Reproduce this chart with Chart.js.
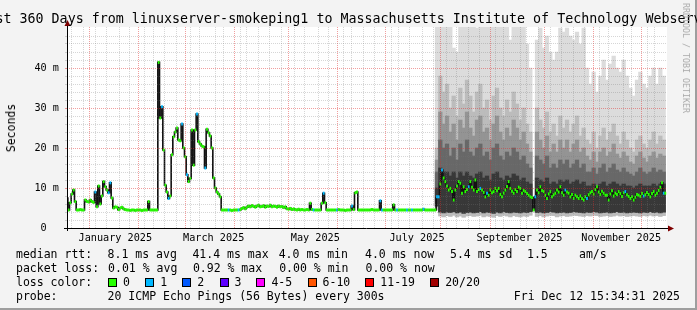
<!DOCTYPE html>
<html>
<head>
<meta charset="utf-8">
<title>SmokePing - Massachusetts Institute of Technology Webserver</title>
<script src="https://cdn.jsdelivr.net/npm/chart.js@4.4.1/dist/chart.umd.min.js"></script>
<style>
  html, body { margin: 0; padding: 0; }
  body {
    width: 697px; height: 310px; position: relative; overflow: hidden;
    background: #f3f3f3;
    font-family: "DejaVu Sans Mono", monospace;
    color: #000;
  }
  #shade { position: absolute; left: 0; top: 0; width: 695px; height: 308px;
           border-right: 2px solid #9e9e9e; border-bottom: 2px solid #9e9e9e; }
  #graph { position: absolute; left: 0; top: 0; }
  #title { position: absolute; top: 11px; left: 348.5px; transform: translateX(-50%);
           font-size: 13.33px; line-height: 16px; white-space: pre; }
  #ylabel { position: absolute; left: 11px; top: 128px; transform: translate(-50%, -50%) rotate(-90deg);
            font-size: 11.5px; white-space: pre; }
  #mark { position: absolute; left: 686px; top: 58px; transform: translate(-50%, -50%) rotate(90deg);
          font-size: 8.3px; color: #ababab; white-space: pre; }
  .txt { position: absolute; white-space: pre; font-size: 11.5px; line-height: 14px; }
  .box { position: absolute; width: 7px; height: 7px; border: 1px solid #000; }
</style>
</head>
<body>
<div id="shade"></div>
<canvas id="graph" width="697" height="250"></canvas>
<div id="title">Last 360 Days from linuxserver-smokeping1 to Massachusetts Institute of Technology Webserver</div>
<div id="ylabel">Seconds</div>
<div id="mark">RRDTOOL / TOBI OETIKER</div>
<div id="legend"></div>
<script>
// median rtt in ms, one value per day, day 0 = left edge of the graph (17 Dec 2024)
const medianMs = [
  7.5, 4.5, 6.3, 8.5, 9.5, 6.6, 4.5, 4.5, 4.6, 4.5,
  4.5, 7.0, 6.6, 6.5, 7.0, 6.6, 6.4, 9.0, 5.3, 10.5,
  6.0, 8.0, 11.6, 10.3, 9.5, 8.8, 11.3, 7.5, 5.0, 5.3,
  5.2, 4.6, 5.0, 5.2, 4.8, 4.6, 4.5, 4.5, 4.4, 4.5,
  4.5, 4.4, 4.5, 4.5, 4.5, 4.4, 4.5, 4.5, 4.5, 6.6,
  4.5, 4.5, 4.5, 4.5, 4.5, 41.4, 27.5, 30.3, 19.5, 10.7,
  9.0, 7.4, 8.0, 18.3, 22.8, 24.0, 25.0, 22.0, 21.8, 26.0,
  20.0, 17.8, 13.3, 11.6, 12.4, 24.5, 15.7, 24.5, 28.5, 21.6,
  21.0, 20.5, 20.3, 15.0, 24.7, 23.8, 23.0, 20.0, 12.5, 10.0,
  9.0, 8.5, 7.8, 4.5, 4.5, 4.5, 4.5, 4.5, 4.5, 4.4,
  4.5, 4.5, 4.5, 4.5, 4.6, 4.9, 5.1, 4.8, 5.2, 5.5,
  5.3, 5.6, 5.4, 5.2, 5.5, 5.7, 5.3, 5.4, 5.6, 5.2,
  5.5, 5.4, 5.7, 5.3, 5.5, 5.4, 5.2, 5.5, 5.3, 5.4,
  5.1, 5.3, 4.8, 4.7, 4.9, 4.6, 4.8, 4.6, 4.5, 4.7,
  4.5, 4.6, 4.5, 4.5, 4.6, 4.5, 6.2, 4.6, 4.5, 4.5,
  4.5, 4.5, 4.5, 6.2, 8.7, 6.3, 4.5, 4.5, 4.5, 4.5,
  4.5, 4.5, 4.5, 4.6, 4.5, 4.5, 4.5, 4.4, 4.5, 4.5,
  4.5, 5.5, 4.6, 8.8, 9.0, 4.5, 4.5, 4.5, 4.5, 4.5,
  4.5, 4.5, 4.5, 4.6, 4.5, 4.5, 4.5, 4.5, 6.8, 4.5,
  4.5, 4.5, 4.5, 4.5, 4.5, 4.5, 5.8, 4.5, 4.5, 4.5,
  4.5, 4.5, 4.5, 4.5, 4.5, 4.5, 4.5, 4.5, 4.5, 4.5,
  4.5, 4.5, 4.5, 4.5, 4.7, 4.5, 4.5, 4.5, 4.5, 4.5,
  4.5, 4.5, 7.8, 7.8, 11.0, 14.5, 12.5, 11.6, 10.5, 9.5,
  9.9, 9.1, 7.0, 9.5, 10.5, 11.6, 11.2, 8.7, 10.3, 9.1,
  9.6, 10.3, 11.6, 10.2, 9.5, 12.0, 9.1, 9.6, 9.9, 9.5,
  8.9, 7.8, 8.7, 8.2, 9.5, 8.8, 9.1, 9.9, 9.3, 9.9,
  8.4, 7.8, 8.7, 9.5, 10.4, 11.6, 9.9, 9.2, 8.7, 9.6,
  9.1, 10.2, 9.9, 8.7, 9.4, 9.1, 8.6, 8.2, 7.8, 7.6,
  4.5, 7.8, 9.5, 8.8, 10.3, 9.4, 9.1, 8.2, 7.4, 8.5,
  9.1, 7.8, 8.3, 8.7, 9.5, 9.0, 10.3, 8.8, 8.2, 9.5,
  9.0, 8.7, 7.8, 8.4, 7.4, 8.2, 7.8, 7.4, 8.0, 7.4,
  7.0, 7.8, 7.4, 8.3, 8.8, 9.1, 8.5, 9.6, 10.3, 9.0,
  8.4, 9.2, 8.7, 8.2, 8.2, 7.0, 8.5, 9.3, 8.0, 8.7,
  8.4, 9.1, 8.6, 7.9, 8.8, 9.1, 8.3, 7.9, 7.4, 7.8,
  7.0, 7.7, 8.4, 8.2, 7.9, 8.6, 8.0, 8.3, 8.9, 8.4,
  7.8, 8.6, 9.1, 8.2, 8.7, 9.4, 10.2, 11.3, 8.7, 8.7
];

// days where the median was drawn in the 1/20 loss colour
const lossOneDays = [0, 17, 25, 26, 57, 61, 69, 72, 78, 83, 97, 103, 148, 154, 162, 171,
  188, 189, 198, 204, 207, 214, 222, 223, 225, 241, 248, 252, 281, 299, 312, 335, 346, 358];

// smoke (ping spread), every 2nd day from day 222, null = no data
const smokeFirstDay = 222;
const smokeMax = [52, 52, 52, 52, 52, 45, 44, 52, 52, 52, 52, 52, 50, 52, 52, 52, 52, 52, 52, 52,
  52, 52, 47, 52, 52, 52, 52, 46, 40, null,
  47, 50, 45, 48, 44, 42, 44, 50, 49, 50, 48, 47, 49, 46, 50, 40, 36, 39, 34, 38,
  42, 37, 41, 43, 40, 39, 42, 38, 35, 33, 37, 39, 36, 35, 38, 40, 36, 40, 38];
const smokeHigh = [20, 38, 34, 36, 30, 33, 28, 35, 31, 37, 33, 29, 34, 36, 30, 32, 27, 33, 35, 30,
  28, 32, 29, 34, 31, 27, 30, 26, 24, null,
  30, 27, 25, 29, 24, 26, 23, 28, 25, 27, 24, 26, 28, 23, 25, 22, 21, 24, 20, 23,
  25, 22, 24, 26, 23, 21, 24, 22, 20, 19, 22, 23, 21, 20, 22, 24, 21, 23, 22];
const smokeUpper = [17, 29, 26, 28, 24, 26, 22, 27, 25, 29, 25, 23, 27, 28, 24, 25, 22, 26, 28, 24,
  22, 25, 23, 27, 25, 22, 24, 21, 19, null,
  24, 22, 20, 23, 19, 21, 19, 22, 20, 22, 19, 21, 22, 19, 20, 18, 17, 19, 16.5, 19,
  20, 18, 19, 21, 18.5, 17.5, 19, 18, 16.5, 16, 18, 19, 17.5, 16.5, 18, 19, 17.5, 18.5, 18];
const smokeMid = [14, 22, 20, 21, 18, 20, 17, 21, 19, 22, 19, 18, 20, 21, 18, 19, 17, 20, 21, 18,
  17, 19, 18, 20, 19, 17, 18, 16, 15, null,
  18, 17, 16, 18, 15, 16, 15, 17, 16, 17, 15, 16, 17, 15, 16, 14, 14, 15, 13.5, 15,
  16, 14, 15, 16, 14.5, 14, 15, 14, 13.5, 13, 14, 15, 14, 13.5, 14, 15, 14, 14.5, 14];
const smokeCore = [10, 15, 14, 14, 13, 14, 12.5, 14, 13, 14, 13, 12.5, 13.5, 14, 12.5, 13, 12, 13.5, 14, 12.5,
  12, 13, 12.5, 13.5, 13, 12, 12.5, 11.5, 11, null,
  12.5, 12, 11.5, 12.5, 11, 11.5, 11, 12, 11.5, 12, 11, 11.5, 12, 11, 11.5, 10.5, 10.5, 11, 10.5, 11,
  11.5, 10.5, 11, 11.5, 11, 10.5, 11, 10.5, 10.5, 10, 10.5, 11, 10.5, 10.5, 10.5, 11, 10.5, 11, 11];
const coreLow = [5.5, 4.0, 3.8, 4.0, 3.9, 4.1, 3.8, 4.0, 3.7, 3.9, 4.0, 3.8, 3.9, 4.1, 3.8, 4.0, 3.9, 3.7, 4.0, 3.8,
  4.1, 3.9, 3.8, 4.0, 3.9, 3.8, 4.0, 3.9, 4.1, null,
  3.9, 4.0, 3.8, 3.9, 4.1, 4.0, 3.8, 3.9, 4.0, 3.8, 3.9, 4.1, 4.0, 3.9, 3.8, 4.0, 3.9, 4.1, 4.0, 3.8,
  3.9, 4.0, 3.8, 3.9, 4.1, 3.9, 4.0, 3.8, 3.9, 4.0, 3.9, 3.8, 4.0, 3.9, 4.1, 3.9, 4.0, 3.8, 4.0];
const smokeMin = [4.5, 3.0, 2.8, 3.1, 2.9, 3.2, 2.8, 3.0, 2.7, 3.0, 3.1, 2.9, 3.0, 3.2, 2.8, 3.0, 2.9, 2.7, 3.1, 2.9,
  3.2, 3.0, 2.8, 3.1, 2.9, 2.8, 3.0, 2.9, 3.2, null,
  2.9, 3.1, 2.8, 3.0, 3.2, 3.1, 2.8, 3.0, 3.1, 2.9, 3.0, 3.2, 3.1, 3.0, 2.9, 3.1, 3.0, 3.2, 3.1, 2.9,
  3.0, 3.1, 2.9, 3.0, 3.2, 3.0, 3.1, 2.9, 3.0, 3.1, 3.0, 2.9, 3.1, 3.0, 3.2, 3.0, 3.1, 2.9, 3.1];

// axes
const monthStartDays = [13.5, 44.5, 72.5, 103.5, 133.5, 164.5, 194.5, 225.5, 256.5, 286.5, 317.5, 347.5];
const xLabelDays = [29, 88, 149, 210, 271.5, 332.5];
const xLabels = ["January 2025", "March 2025", "May 2025", "July 2025", "September 2025", "November 2025"];
const firstWeekDay = 6.2;
const yMajor = [0, 10, 20, 30, 40];
const yMajorLabels = ["0  ", "10 m", "20 m", "30 m", "40 m"];

// legend
const lossLabels = ["0", "1", "2", "3", "4-5", "6-10", "11-19", "20/20"];
const lossColors = ["#26ff00", "#00b8ff", "#0059ff", "#5e00ff", "#ff00ff", "#ff5500", "#ff0000", "#a10000"];
const medianStats = ["8.1 ms avg", "41.4 ms max", "4.0 ms min", "4.0 ms now", "5.4 ms sd", "1.5", "am/s"];
const lossStats = ["0.01 % avg", "0.92 % max", "0.00 % min", "0.00 % now"];
const probeText = "20 ICMP Echo Pings (56 Bytes) every 300s";
const stampText = "Fri Dec 12 15:34:31 2025";

// ---- layout of the legend block (px) ----
const statCols = [107.6, 192.4, 278.7, 365, 450, 527, 579];
const boxCols = [108, 145.3, 182.2, 219.6, 256.4, 307.6, 365.3, 430.2];
const rowTops = [247, 261, 275, 289];

const GRID_MINOR = "rgba(120,120,120,0.3)";
const GRID_MAJOR = "rgba(225,40,40,0.45)";
const FONT_AXIS = { family: "DejaVu Sans Mono", size: 10.2 };

function addText(text, x, top, extra) {
  const el = document.createElement("div");
  el.className = "txt";
  el.textContent = text;
  el.style.left = x + "px";
  el.style.top = top + "px";
  if (extra) Object.assign(el.style, extra);
  document.getElementById("legend").appendChild(el);
}

function buildLegend() {
  addText("median rtt:", 16, rowTops[0]);
  medianStats.forEach((s, i) => addText(s, statCols[i], rowTops[0]));
  addText("packet loss:", 16, rowTops[1]);
  lossStats.forEach((s, i) => addText(s, statCols[i] + 0.5, rowTops[1]));
  addText("loss color:", 16, rowTops[2]);
  lossLabels.forEach((s, i) => {
    const b = document.createElement("div");
    b.className = "box";
    b.style.left = boxCols[i] + "px";
    b.style.top = (rowTops[2] + 3) + "px";
    b.style.background = lossColors[i];
    document.getElementById("legend").appendChild(b);
    addText(s, boxCols[i] + 15, rowTops[2]);
  });
  addText("probe:", 16, rowTops[3]);
  addText(probeText, statCols[0], rowTops[3]);
  addText(stampText, 0, rowTops[3], { left: "auto", right: "17px" });
}

// build chart points from the arrays
const medianPts = medianMs.map((v, d) => ({ x: d, y: v }));
const pointColors = medianMs.map((v, d) => lossOneDays.includes(d) ? lossColors[1] : lossColors[0]);

function band(lo, hi) {
  const pts = [];
  hi.forEach((v, i) => {
    if (v == null || lo[i] == null) return;
    pts.push({ x: smokeFirstDay + 2 * i, y: [lo[i], v] });
  });
  return pts;
}

// one smoke column covers 2 days = 3.33px, a little extra so columns touch
function smokeSet(data, color, order) {
  return {
    type: "bar",
    data,
    backgroundColor: color,
    borderWidth: 0,
    grouped: false,
    barThickness: 3.6,
    order
  };
}

function xTicks() {
  const t = [];
  for (let d = firstWeekDay; d < 360; d += 7) t.push({ value: d, kind: "week" });
  monthStartDays.forEach((d) => t.push({ value: d, kind: "month" }));
  xLabelDays.forEach((d, i) => t.push({ value: d, kind: "label", text: xLabels[i] }));
  return t.sort((a, b) => a.value - b.value);
}

// white canvas + axes with rrdtool style arrows
const rrdFrame = {
  id: "rrdFrame",
  beforeDraw(chart) {
    const { ctx, chartArea: a } = chart;
    ctx.save();
    ctx.fillStyle = "#ffffff";
    ctx.fillRect(a.left, a.top, a.right - a.left, a.bottom - a.top);
    ctx.restore();
  },
  afterDraw(chart) {
    const { ctx, chartArea: a } = chart;
    ctx.save();
    ctx.strokeStyle = "#000";
    ctx.lineWidth = 1;
    ctx.beginPath();
    ctx.moveTo(a.left - 3, a.bottom + 0.5);
    ctx.lineTo(a.right + 2, a.bottom + 0.5);
    ctx.moveTo(a.left + 0.5, a.bottom + 3);
    ctx.lineTo(a.left + 0.5, a.top - 2);
    ctx.stroke();
    ctx.fillStyle = "#7f0000";
    ctx.beginPath();
    ctx.moveTo(a.right + 1, a.bottom - 2.5);
    ctx.lineTo(a.right + 7, a.bottom + 0.5);
    ctx.lineTo(a.right + 1, a.bottom + 3.5);
    ctx.fill();
    ctx.beginPath();
    ctx.moveTo(a.left - 2.5, a.top - 1);
    ctx.lineTo(a.left + 0.5, a.top - 7);
    ctx.lineTo(a.left + 3.5, a.top - 1);
    ctx.fill();
    ctx.restore();
  }
};

new Chart(document.getElementById("graph"), {
  type: "line",
  data: {
    datasets: [
      {
        label: "loss",
        data: medianPts,
        showLine: false,
        pointStyle: "line",
        pointRadius: 0.9,
        pointBorderWidth: 3,
        pointBorderColor: pointColors,
        pointBackgroundColor: pointColors,
        order: 0
      },
      {
        label: "median",
        data: medianPts,
        stepped: "middle",
        borderColor: "#111111",
        borderWidth: 1.6,
        pointRadius: 0,
        fill: false,
        order: 1
      },
      smokeSet(band(coreLow, smokeCore), "#383838", 2),
      smokeSet(band(coreLow, smokeMid), "#686868", 3),
      smokeSet(band(coreLow, smokeUpper), "#949494", 4),
      smokeSet(band(smokeMin, smokeHigh), "#bcbcbc", 5),
      smokeSet(band(smokeMin, smokeMax), "#dcdcdc", 6)
    ]
  },
  options: {
    responsive: false,
    animation: false,
    events: [],
    layout: { padding: { top: 27, right: 30, left: 0, bottom: 0 } },
    plugins: { legend: { display: false }, tooltip: { enabled: false } },
    scales: {
      x: {
        type: "linear",
        min: 0,
        max: 360,
        offset: false,
        afterBuildTicks: (ax) => { ax.ticks = xTicks(); },
        afterFit: (ax) => { ax.height = 22; ax.paddingLeft = 0; ax.paddingRight = 0; },
        grid: {
          z: 1,
          drawTicks: false,
          color: (c) => {
            if (!c.tick) return "rgba(0,0,0,0)";
            if (c.tick.kind === "month") return GRID_MAJOR;
            if (c.tick.kind === "week") return GRID_MINOR;
            return "rgba(0,0,0,0)";
          }
        },
        border: { display: false, dash: [1, 1] },
        ticks: {
          autoSkip: false,
          maxRotation: 0,
          minRotation: 0,
          padding: 4,
          color: "#000",
          font: FONT_AXIS,
          callback: (v, i, ticks) => ticks[i].text || ""
        }
      },
      y: {
        min: 0,
        max: 50.25,
        afterBuildTicks: (ax) => {
          const t = [];
          for (let v = 0; v < 50; v += 2) t.push({ value: v });
          ax.ticks = t;
        },
        afterFit: (ax) => { ax.width = 67; ax.paddingTop = 0; ax.paddingBottom = 0; },
        grid: {
          z: 1,
          tickLength: 2,
          color: (c) => (c.tick && c.tick.value % 10 === 0 ? GRID_MAJOR : GRID_MINOR)
        },
        border: { display: false, dash: [1, 1] },
        ticks: {
          autoSkip: false,
          padding: 6,
          color: "#000",
          font: FONT_AXIS,
          callback: (v) => {
            const i = yMajor.indexOf(v);
            return i < 0 ? "" : yMajorLabels[i];
          }
        }
      }
    }
  },
  plugins: [rrdFrame]
});

buildLegend();
</script>
</body>
</html>
